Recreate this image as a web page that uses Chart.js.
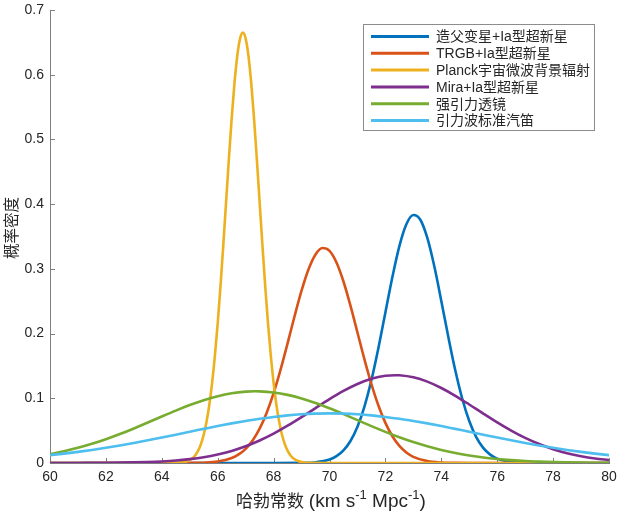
<!DOCTYPE html>
<html>
<head>
<meta charset="utf-8">
<title>哈勃常数概率密度</title>
<script src="https://cdn.jsdelivr.net/npm/chart.js@4"></script>
<style>
  html, body { margin: 0; padding: 0; background: #fff; }
  #wrap { width: 617px; height: 514px; }
</style>
</head>
<body>
<div id="wrap"><canvas id="myChart" width="617" height="514"></canvas></div>
<script>
// series names, in legend order
const seriesNames = ["造父变星+Ia型超新星", "TRGB+Ia型超新星", "Planck宇宙微波背景辐射", "Mira+Ia型超新星", "强引力透镜", "引力波标准汽笛"];
const seriesColors = ["#0072BD", "#D95319", "#EDB120", "#7E2F8E", "#77AC30", "#4DBEEE"];

// values (H0 vs probability density)
const cepheidX = [60, 68, 69, 69.5, 70, 70.25, 70.5, 70.75, 71, 71.25, 71.5, 71.75, 72, 72.25, 72.5, 72.75, 73, 73.25, 73.5, 73.75, 74, 74.25, 74.5, 74.75, 75, 75.25, 75.5, 75.75, 76, 76.5, 77, 78, 80];
const cepheidY = [0, 0, 0.0002, 0.0012, 0.0054, 0.0105, 0.0195, 0.0340, 0.0560, 0.0872, 0.1282, 0.1778, 0.2327, 0.2874, 0.3352, 0.3690, 0.3833, 0.3759, 0.3478, 0.3039, 0.2505, 0.1950, 0.1432, 0.0993, 0.0650, 0.0401, 0.0234, 0.0129, 0.0067, 0.0015, 0.0003, 0, 0];

const trgbX = [60, 64, 65, 65.5, 66, 66.5, 66.75, 67, 67.25, 67.5, 67.75, 68, 68.25, 68.5, 68.75, 69, 69.25, 69.5, 69.75, 70, 70.25, 70.5, 70.75, 71, 71.25, 71.5, 71.75, 72, 72.25, 72.5, 72.75, 73, 73.5, 74, 74.5, 75, 76, 80];
const trgbY = [0, 0, 0.0001, 0.0005, 0.0022, 0.0076, 0.0132, 0.0219, 0.0348, 0.0530, 0.0773, 0.1080, 0.1444, 0.1849, 0.2268, 0.2662, 0.2994, 0.3223, 0.3322, 0.3279, 0.3099, 0.2805, 0.2431, 0.2017, 0.1602, 0.1219, 0.0888, 0.0620, 0.0414, 0.0265, 0.0162, 0.0095, 0.0029, 0.0007, 0.0002, 0, 0, 0];

const planckX = [60, 64, 64.5, 64.7, 64.9, 65.1, 65.2, 65.3, 65.4, 65.5, 65.6, 65.7, 65.8, 65.9, 66.0, 66.1, 66.2, 66.3, 66.4, 66.5, 66.6, 66.7, 66.8, 66.9, 67.0, 67.1, 67.2, 67.3, 67.4, 67.5, 67.6, 67.7, 67.8, 67.9, 68.0, 68.1, 68.2, 68.3, 68.4, 68.5, 68.6, 68.7, 68.9, 69.1, 69.3, 70, 80];
const planckY = [0, 0, 0.0002, 0.0008, 0.0026, 0.0074, 0.0120, 0.0190, 0.0292, 0.0437, 0.0636, 0.0900, 0.1239, 0.1658, 0.2159, 0.2734, 0.3367, 0.4033, 0.4699, 0.5325, 0.5869, 0.6291, 0.6558, 0.6650, 0.6558, 0.6291, 0.5869, 0.5325, 0.4699, 0.4033, 0.3367, 0.2734, 0.2159, 0.1658, 0.1239, 0.0900, 0.0636, 0.0437, 0.0292, 0.0190, 0.0120, 0.0074, 0.0026, 0.0008, 0.0002, 0, 0];

const miraX = [60, 61, 62, 63, 63.5, 64, 64.5, 65, 65.5, 66, 66.5, 67, 67.5, 68, 68.5, 69, 69.5, 70, 70.5, 71, 71.5, 72, 72.35, 72.5, 73, 73.5, 74, 74.5, 75, 75.5, 76, 76.5, 77, 77.5, 78, 78.5, 79, 79.5, 80];
const miraY = [0, 0.0001, 0.0003, 0.0009, 0.0015, 0.0024, 0.0038, 0.0060, 0.0090, 0.0132, 0.0187, 0.0259, 0.0348, 0.0454, 0.0576, 0.0709, 0.0848, 0.0986, 0.1113, 0.1221, 0.1301, 0.1347, 0.1357, 0.1355, 0.1324, 0.1257, 0.1159, 0.1039, 0.0904, 0.0764, 0.0628, 0.0501, 0.0388, 0.0293, 0.0214, 0.0152, 0.0105, 0.0070, 0.0046];

const lensX = [60, 60.5, 61, 61.5, 62, 62.5, 63, 63.5, 64, 64.5, 65, 65.5, 66, 66.5, 67, 67.35, 67.5, 68, 68.5, 69, 69.5, 70, 70.5, 71, 71.5, 72, 72.5, 73, 73.5, 74, 74.5, 75, 75.5, 76, 76.5, 77, 77.5, 78, 78.5, 79, 79.5, 80];
const lensY = [0.0138, 0.0181, 0.0234, 0.0296, 0.0367, 0.0447, 0.0534, 0.0625, 0.0719, 0.0810, 0.0895, 0.0971, 0.1033, 0.1078, 0.1103, 0.1108, 0.1107, 0.1090, 0.1053, 0.0998, 0.0927, 0.0845, 0.0756, 0.0663, 0.0570, 0.0481, 0.0398, 0.0323, 0.0258, 0.0201, 0.0154, 0.0116, 0.0085, 0.0062, 0.0044, 0.0030, 0.0021, 0.0014, 0.0009, 0.0006, 0.0004, 0.0002];

const gwX = [60, 60.5, 61, 61.5, 62, 62.5, 63, 63.5, 64, 64.5, 65, 65.5, 66, 66.5, 67, 67.5, 68, 68.5, 69, 69.5, 70, 70.5, 71, 71.5, 72, 72.5, 73, 73.5, 74, 74.5, 75, 75.5, 76, 76.5, 77, 77.5, 78, 78.5, 79, 79.5, 80];
const gwY = [0.0121, 0.0145, 0.0172, 0.0202, 0.0235, 0.0271, 0.0310, 0.0351, 0.0394, 0.0438, 0.0483, 0.0527, 0.0571, 0.0612, 0.0649, 0.0683, 0.0712, 0.0736, 0.0753, 0.0763, 0.0767, 0.0763, 0.0753, 0.0736, 0.0712, 0.0683, 0.0649, 0.0612, 0.0571, 0.0527, 0.0483, 0.0438, 0.0394, 0.0351, 0.0310, 0.0271, 0.0235, 0.0202, 0.0172, 0.0145, 0.0121];

const allX = [cepheidX, trgbX, planckX, miraX, lensX, gwX];
const allY = [cepheidY, trgbY, planckY, miraY, lensY, gwY];

const fontFamily = '"Liberation Sans", Arial, "Noto Sans CJK SC", sans-serif';
const textColor = "#262626";
const axisColor = "#7f7f7f";

const datasets = seriesNames.map((name, i) => ({
  label: name,
  data: allX[i].map((x, j) => ({ x: x, y: allY[i][j] })),
  borderColor: seriesColors[i],
  borderWidth: 2.6,
  pointRadius: 0,
  fill: false,
  cubicInterpolationMode: "monotone",
  order: seriesNames.length - i   // later series on top, like the original
}));

// small inward tick marks on the two axes
const insideTicks = {
  id: "insideTicks",
  beforeDatasetsDraw(chart) {
    const ctx = chart.ctx;
    const area = chart.chartArea;
    const xs = chart.scales.x, ys = chart.scales.y;
    ctx.save();
    ctx.strokeStyle = axisColor;
    ctx.lineWidth = 1;
    ctx.beginPath();
    xs.ticks.forEach(t => {
      const px = Math.round(xs.getPixelForValue(t.value)) + 0.5;
      ctx.moveTo(px, area.bottom);
      ctx.lineTo(px, area.bottom - 5);
    });
    ys.ticks.forEach(t => {
      const py = Math.round(ys.getPixelForValue(t.value)) + 0.5;
      ctx.moveTo(area.left, py);
      ctx.lineTo(area.left + 5, py);
    });
    ctx.stroke();
    ctx.restore();
  }
};

// axis titles (x title has superscripts)
const axisTitles = {
  id: "axisTitles",
  afterDraw(chart) {
    const ctx = chart.ctx;
    const area = chart.chartArea;
    ctx.save();
    ctx.fillStyle = textColor;
    ctx.textBaseline = "alphabetic";

    const cjk = "17px " + fontFamily, big = "19px " + fontFamily, small = "13px " + fontFamily;
    const parts = [
      { t: "哈勃常数 ", f: cjk, dy: 0 },
      { t: "(km s", f: big, dy: 0 },
      { t: "-1", f: small, dy: -8 },
      { t: " Mpc", f: big, dy: 0 },
      { t: "-1", f: small, dy: -8 },
      { t: ")", f: big, dy: 0 }
    ];
    let total = 0;
    parts.forEach(p => { ctx.font = p.f; total += ctx.measureText(p.t).width; });
    let x = 331 - total / 2;
    const base = 507;
    parts.forEach(p => {
      ctx.font = p.f;
      ctx.fillText(p.t, x, base + p.dy);
      x += ctx.measureText(p.t).width;
    });

    ctx.translate(13, 228);
    ctx.rotate(-Math.PI / 2);
    ctx.font = "15.5px " + fontFamily;
    ctx.textAlign = "center";
    ctx.textBaseline = "middle";
    ctx.fillText("概率密度", 0, 0);
    ctx.restore();
  }
};

// boxed legend in the upper right corner
const legendBox = {
  id: "legendBox",
  afterDatasetsDraw(chart) {
    const ctx = chart.ctx;
    ctx.save();
    ctx.fillStyle = "#fff";
    ctx.fillRect(363.5, 24.5, 231, 106);
    ctx.strokeStyle = "#8c8c8c";
    ctx.lineWidth = 1;
    ctx.strokeRect(363.5, 24.5, 231, 106);
    ctx.font = "14px " + fontFamily;
    ctx.textBaseline = "middle";
    seriesNames.forEach((name, i) => {
      const y = 36.5 + i * 16.8;
      ctx.strokeStyle = seriesColors[i];
      ctx.lineWidth = 3;
      ctx.beginPath();
      ctx.moveTo(371, y);
      ctx.lineTo(429, y);
      ctx.stroke();
      ctx.fillStyle = textColor;
      ctx.fillText(name, 436, y + 1);
    });
    ctx.restore();
  }
};

const ctx = document.getElementById("myChart").getContext("2d");
const myChart = new Chart(ctx, {
  type: "line",
  data: { datasets: datasets },
  options: {
    responsive: false,
    animation: false,
    devicePixelRatio: 1,
    layout: { padding: { top: 10, right: 8, left: 0, bottom: 0 } },
    plugins: {
      legend: { display: false },
      tooltip: { enabled: false }
    },
    scales: {
      x: {
        type: "linear",
        min: 60,
        max: 80,
        ticks: {
          stepSize: 2,
          padding: 6,
          color: textColor,
          font: { family: fontFamily, size: 14 },
          maxRotation: 0
        },
        grid: { display: true, drawOnChartArea: false, drawTicks: false },
        border: { display: true, color: axisColor, width: 1 },
        afterFit: s => { s.height = 51; s.paddingLeft = 0; s.paddingRight = 0; }
      },
      y: {
        type: "linear",
        min: 0,
        max: 0.7,
        ticks: {
          stepSize: 0.1,
          padding: 6,
          color: textColor,
          font: { family: fontFamily, size: 14 }
        },
        grid: { display: true, drawOnChartArea: false, drawTicks: false },
        border: { display: true, color: axisColor, width: 1 },
        afterFit: s => { s.width = 50; s.paddingTop = 0; s.paddingBottom = 0; }
      }
    }
  },
  plugins: [insideTicks, axisTitles, legendBox]
});
</script>
</body>
</html>
